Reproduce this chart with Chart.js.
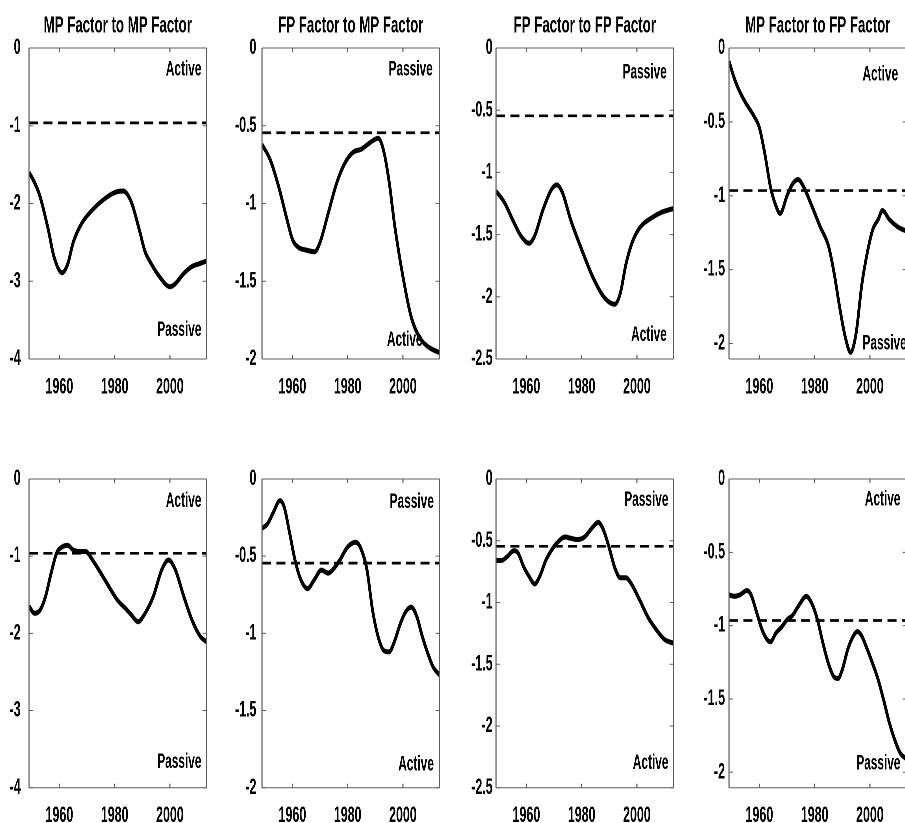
<!DOCTYPE html>
<html><head><meta charset="utf-8">
<script src="https://cdn.jsdelivr.net/npm/chart.js@4/dist/chart.umd.min.js"></script>
<style>
html,body{margin:0;padding:0;background:#fff;width:905px;height:823px;overflow:hidden;}
#fig{position:relative;width:905px;height:823px;overflow:hidden;background:#fff;}
.cell{position:absolute;transform-origin:0 0;}
</style></head><body><div id="fig"></div>
<script>
// ---------------- data ----------------
const panelTitles = ["MP Factor to MP Factor","FP Factor to MP Factor","FP Factor to FP Factor","MP Factor to FP Factor"];
const xTicks = [1960, 1980, 2000];
const xRange = [1949, 2013.25];
const yMins = [-4, -2, -2.5, -2.105];
const yTicks = [[0,-1,-2,-3,-4],[0,-0.5,-1,-1.5,-2],[0,-0.5,-1,-1.5,-2,-2.5],[0,-0.5,-1,-1.5,-2]];
const thresholds = [-0.963, -0.545, -0.545, -0.965];
const topLabels = ["Active","Passive","Passive","Active"];
const bottomLabels = ["Passive","Active","Active","Passive"];

// Row 1
const mpToMpYears1 = [1949,1951,1953,1956,1958,1961,1963,1965,1968,1972,1976,1980,1983,1986,1989,1991,1993,1996,2000,2002,2005,2008,2011,2013.25];
const mpToMpValues1 = [-1.60,-1.73,-1.91,-2.34,-2.68,-2.89,-2.78,-2.50,-2.26,-2.08,-1.95,-1.86,-1.84,-1.98,-2.35,-2.62,-2.76,-2.93,-3.07,-3.03,-2.90,-2.81,-2.77,-2.74];
const fpToMpYears1 = [1949,1952,1955,1958,1960,1962,1965,1968,1970,1973,1976,1979,1982,1985,1988,1991,1993,1995,1997,2000,2003,2006,2009,2013.25];
const fpToMpValues1 = [-0.62,-0.72,-0.89,-1.10,-1.23,-1.28,-1.30,-1.31,-1.25,-1.06,-0.87,-0.74,-0.67,-0.65,-0.61,-0.58,-0.66,-0.86,-1.14,-1.47,-1.73,-1.86,-1.92,-1.96];
const fpToFpYears1 = [1949,1952,1955,1958,1961,1963,1966,1969,1971,1973,1976,1980,1984,1988,1992,1994,1996,1998,2000,2002,2005,2009,2013.25];
const fpToFpValues1 = [-1.15,-1.24,-1.38,-1.51,-1.57,-1.51,-1.30,-1.14,-1.10,-1.16,-1.38,-1.62,-1.84,-2.00,-2.06,-1.97,-1.74,-1.58,-1.48,-1.42,-1.37,-1.32,-1.29];
const mpToFpYears1 = [1949,1951,1953,1955,1958,1960,1962,1964,1966,1967.5,1970,1972,1974,1976,1979,1982,1985,1987,1989,1991,1993,1995,1997,1999,2001,2003,2004.5,2007,2010,2013.25];
const mpToFpValues1 = [-0.09,-0.21,-0.30,-0.37,-0.46,-0.54,-0.72,-0.94,-1.07,-1.12,-1.00,-0.92,-0.89,-0.94,-1.07,-1.21,-1.34,-1.52,-1.75,-1.95,-2.06,-1.93,-1.61,-1.39,-1.23,-1.16,-1.10,-1.16,-1.21,-1.24];

// Row 2
const mpToMpYears2 = [1949,1951,1953,1955,1957,1959,1961,1963,1965,1967,1969.5,1972,1975,1978,1981,1984,1986,1988.5,1991,1994,1997,1999.5,2002,2005,2008,2011,2013.25];
const mpToMpValues2 = [-1.65,-1.74,-1.70,-1.52,-1.22,-0.96,-0.88,-0.86,-0.92,-0.94,-0.94,-1.05,-1.22,-1.40,-1.57,-1.68,-1.76,-1.85,-1.74,-1.52,-1.18,-1.05,-1.18,-1.52,-1.83,-2.04,-2.11];
const fpToMpYears2 = [1949,1951,1953,1955.5,1957,1959,1961,1963,1965.5,1968,1970.5,1973,1975,1977,1980,1983,1985,1987,1989,1991,1993,1995,1997,1999,2001,2003,2005,2007,2009,2011,2013.25];
const fpToMpValues2 = [-0.32,-0.29,-0.22,-0.14,-0.18,-0.35,-0.53,-0.65,-0.71,-0.65,-0.59,-0.61,-0.58,-0.53,-0.44,-0.41,-0.46,-0.59,-0.85,-1.02,-1.11,-1.12,-1.05,-0.94,-0.86,-0.83,-0.89,-1.02,-1.13,-1.22,-1.27];
const fpToFpYears2 = [1949,1951,1953,1955.5,1957,1959,1961,1963,1965,1967,1969,1971,1974,1976,1978.5,1981,1984,1986,1988,1990,1992,1994,1996,1998,2001,2004,2007,2010,2013.25];
const fpToFpValues2 = [-0.66,-0.66,-0.63,-0.58,-0.60,-0.71,-0.79,-0.85,-0.78,-0.66,-0.58,-0.52,-0.47,-0.48,-0.49,-0.47,-0.39,-0.35,-0.42,-0.56,-0.72,-0.80,-0.80,-0.85,-0.98,-1.12,-1.22,-1.30,-1.33];
const mpToFpYears2 = [1949,1951,1953,1955.5,1957,1959,1961,1963,1964,1966,1968,1970,1972,1974,1977,1979,1981,1983,1985,1987,1988.5,1990,1992,1994,1995.5,1997,1999,2001,2003,2005,2007,2009,2011,2013.25];
const mpToFpValues2 = [-0.79,-0.80,-0.79,-0.76,-0.79,-0.91,-1.03,-1.10,-1.11,-1.05,-1.01,-0.96,-0.93,-0.87,-0.80,-0.85,-0.96,-1.12,-1.26,-1.35,-1.36,-1.30,-1.16,-1.07,-1.04,-1.07,-1.16,-1.26,-1.37,-1.51,-1.66,-1.78,-1.87,-1.91];

const seriesYears = [[mpToMpYears1,fpToMpYears1,fpToFpYears1,mpToFpYears1],[mpToMpYears2,fpToMpYears2,fpToFpYears2,mpToFpYears2]];
const seriesValues = [[mpToMpValues1,fpToMpValues1,fpToFpValues1,mpToFpValues1],[mpToMpValues2,fpToMpValues2,fpToFpValues2,mpToFpValues2]];

// ---------------- layout / style ----------------
const S = 0.565;                // horizontal condensation of the figure
const COL_LEFT = [0, 233.3, 466.7, 700];
const CELL_W = 233.3, AXIS_W = 29, PLOT_W = 177.5;
const Y_GAP = [8.3, 5.6, 3.4, 4.0];
const ROWS = [
  {top:0,   h:400, plotTop:48, plotBottom:359,   title:true},
  {top:430, h:393, plotTop:49, plotBottom:357.7, title:false}
];
// anchor (year, value) of right edge / middle of the regime labels: [topX, topY, botX, botY]
const LABEL_ANCHORS = [
  [[2011.4,-0.28, 2011.4,-3.63],[2010.8,-0.14, 2007.1,-1.88],[2010.8,-0.20, 2010.8,-2.31],[2010.2,-0.18, 2013.3,-2.00]],
  [[2011.4,-0.29, 2011.4,-3.67],[2011.2,-0.15, 2011.2,-1.85],[2011.4,-0.17, 2011.4,-2.30],[2011.05,-0.14, 2011.05,-1.94]]
];
const FONT = '"Liberation Sans", Arial, Helvetica, sans-serif';
const AXIS_COLOR = '#5c5c5c';

const boxPlugin = {
  id: 'matlabBox',
  afterDraw(chart) {
    const {ctx, chartArea: a} = chart;
    const xs = chart.scales.x, ys = chart.scales.y;
    ctx.save();
    ctx.strokeStyle = AXIS_COLOR;
    ctx.lineWidth = 1;
    ctx.beginPath();
    ctx.moveTo(a.left, a.top); ctx.lineTo(a.right, a.top);
    ctx.moveTo(a.left, a.bottom); ctx.lineTo(a.right, a.bottom);
    ctx.stroke();
    ctx.lineWidth = 1.1 / S;
    ctx.beginPath();
    ctx.moveTo(a.left, a.top); ctx.lineTo(a.left, a.bottom);
    ctx.moveTo(a.right, a.top); ctx.lineTo(a.right, a.bottom);
    xs.ticks.forEach(t => {
      const px = xs.getPixelForValue(t.value);
      ctx.moveTo(px, a.bottom); ctx.lineTo(px, a.bottom - 4);
      ctx.moveTo(px, a.top); ctx.lineTo(px, a.top + 4);
    });
    ctx.stroke();
    ctx.lineWidth = 1;
    ctx.beginPath();
    ys.ticks.forEach(t => {
      const py = ys.getPixelForValue(t.value);
      ctx.moveTo(a.left, py); ctx.lineTo(a.left + 4 / S, py);
      ctx.moveTo(a.right, py); ctx.lineTo(a.right - 4 / S, py);
    });
    ctx.stroke();
    ctx.restore();
  }
};

const regimePlugin = {
  id: 'regimeLabels',
  afterDatasetsDraw(chart, args, opts) {
    const {ctx} = chart;
    const xs = chart.scales.x, ys = chart.scales.y;
    ctx.save();
    ctx.font = 'bold 21px ' + FONT;
    ctx.fillStyle = '#000';
    ctx.textAlign = 'right';
    ctx.textBaseline = 'middle';
    opts.items.forEach(it => ctx.fillText(it.text, xs.getPixelForValue(it.x), ys.getPixelForValue(it.y)));
    ctx.restore();
  }
};

const fig = document.getElementById('fig');
ROWS.forEach((row, r) => {
  for (let c = 0; c < 4; c++) {
    const cell = document.createElement('div');
    cell.className = 'cell';
    cell.style.left = COL_LEFT[c] + 'px';
    cell.style.top = row.top + 'px';
    cell.style.transform = 'scaleX(' + S + ')';
    const canvas = document.createElement('canvas');
    const w = Math.round(CELL_W / S);
    canvas.width = w; canvas.height = row.h;
    canvas.style.width = w + 'px'; canvas.style.height = row.h + 'px';
    cell.appendChild(canvas);
    fig.appendChild(cell);

    const yrs = seriesYears[r][c], vals = seriesValues[r][c];
    const an = LABEL_ANCHORS[r][c];
    const titleH = row.plotTop;
    new Chart(canvas, {
      type: 'line',
      data: {
        datasets: [
          { data: yrs.map((x, i) => ({x, y: vals[i]})), borderColor: '#000', borderWidth: 5,
            pointRadius: 0, cubicInterpolationMode: 'monotone', fill: false },
          { data: [{x: xRange[0], y: thresholds[c]}, {x: xRange[1], y: thresholds[c]}], borderColor: '#000',
            borderWidth: 2.7, borderDash: [16, 9.5], pointRadius: 0, fill: false }
        ]
      },
      options: {
        responsive: false, animation: false, devicePixelRatio: 2,
        layout: { padding: { top: row.title ? 0 : row.plotTop, right: (CELL_W - AXIS_W - PLOT_W) / S, bottom: 0, left: 0 } },
        plugins: {
          legend: { display: false }, tooltip: { enabled: false },
          title: row.title ? {
            display: true, text: panelTitles[c], fullSize: false, color: '#000',
            font: { family: FONT, size: 23.5, weight: 'bold', lineHeight: 1.2 },
            padding: { top: 12, bottom: titleH - 12 - 23.5 * 1.2 }
          } : { display: false },
          regimeLabels: { items: [
            { text: topLabels[c], x: an[0], y: an[1] },
            { text: bottomLabels[c], x: an[2], y: an[3] }
          ] }
        },
        scales: {
          x: {
            type: 'linear', min: xRange[0], max: xRange[1],
            grid: { display: false, drawTicks: false }, border: { display: false },
            afterBuildTicks: s => { s.ticks = xTicks.map(v => ({value: v})); },
            afterFit: s => { s.height = row.h - row.plotBottom; },
            ticks: { callback: v => String(v), color: '#000', padding: 15, maxRotation: 0, autoSkip: false,
                     font: { family: FONT, size: 22, weight: 'bold' } }
          },
          y: {
            type: 'linear', min: yMins[c], max: 0,
            grid: { display: false, drawTicks: false }, border: { display: false },
            afterBuildTicks: s => { s.ticks = yTicks[c].map(v => ({value: v})); },
            afterFit: s => { s.width = AXIS_W / S; },
            ticks: { callback: v => String(v), color: '#000', padding: Y_GAP[c] / S, autoSkip: false,
                     font: { family: FONT, size: 22, weight: 'bold' } }
          }
        }
      },
      plugins: [boxPlugin, regimePlugin]
    });
  }
});
</script>
</body></html>
